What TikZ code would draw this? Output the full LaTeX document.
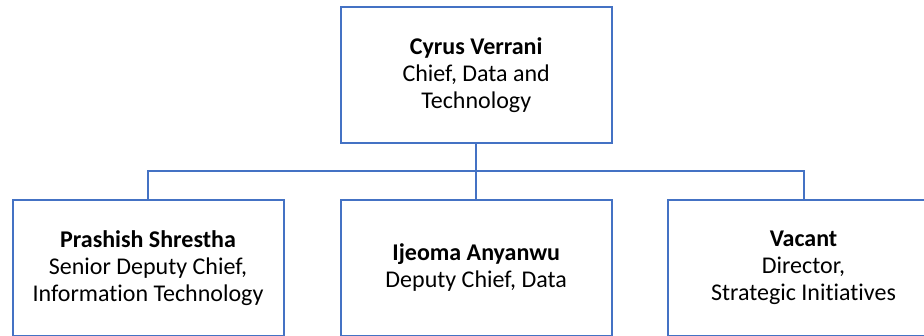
\documentclass[tikz,border=0pt]{standalone}
\usepackage{fontspec}
\setmainfont[Ligatures={NoCommon}]{Carlito}
\usetikzlibrary{calc}
\definecolor{orgblue}{HTML}{4472C4}
\begin{document}
\begin{tikzpicture}[x=1pt,y=1pt,
  orgbox/.style={draw=orgblue,line width=2pt,fill=white,minimum width=271pt,minimum height=135.5pt,
    align=center,inner sep=0pt,font=\fontsize{24}{27}\selectfont,text=black},
  link/.style={draw=orgblue,line width=2pt}]
\useasboundingbox (0,0) rectangle (924,335);
\clip (0,0) rectangle (924,335);
\fill[white] (0,0) rectangle (924,335);
\node[orgbox] (top) at (476.2,259.75) {\textbf{Cyrus Verrani}\\Chief, Data and\\Technology};
\node[orgbox] (left) at (148,67.25) {\textbf{Prashish Shrestha}\\Senior Deputy Chief,\\Information Technology};
\node[orgbox] (mid) at (476.2,67.25) {\textbf{Ijeoma Anyanwu}\\Deputy Chief, Data};
\node[orgbox] (right) at (803.5,67.25) {\textbf{Vacant}\\Director,\\Strategic Initiatives};
\coordinate (bus) at ($(top.south)!0.5!(mid.north)$);
\draw[link] (top.south) -- (mid.north);
\draw[link] (left.north) |- (bus) -| (right.north);
\end{tikzpicture}
\end{document}
